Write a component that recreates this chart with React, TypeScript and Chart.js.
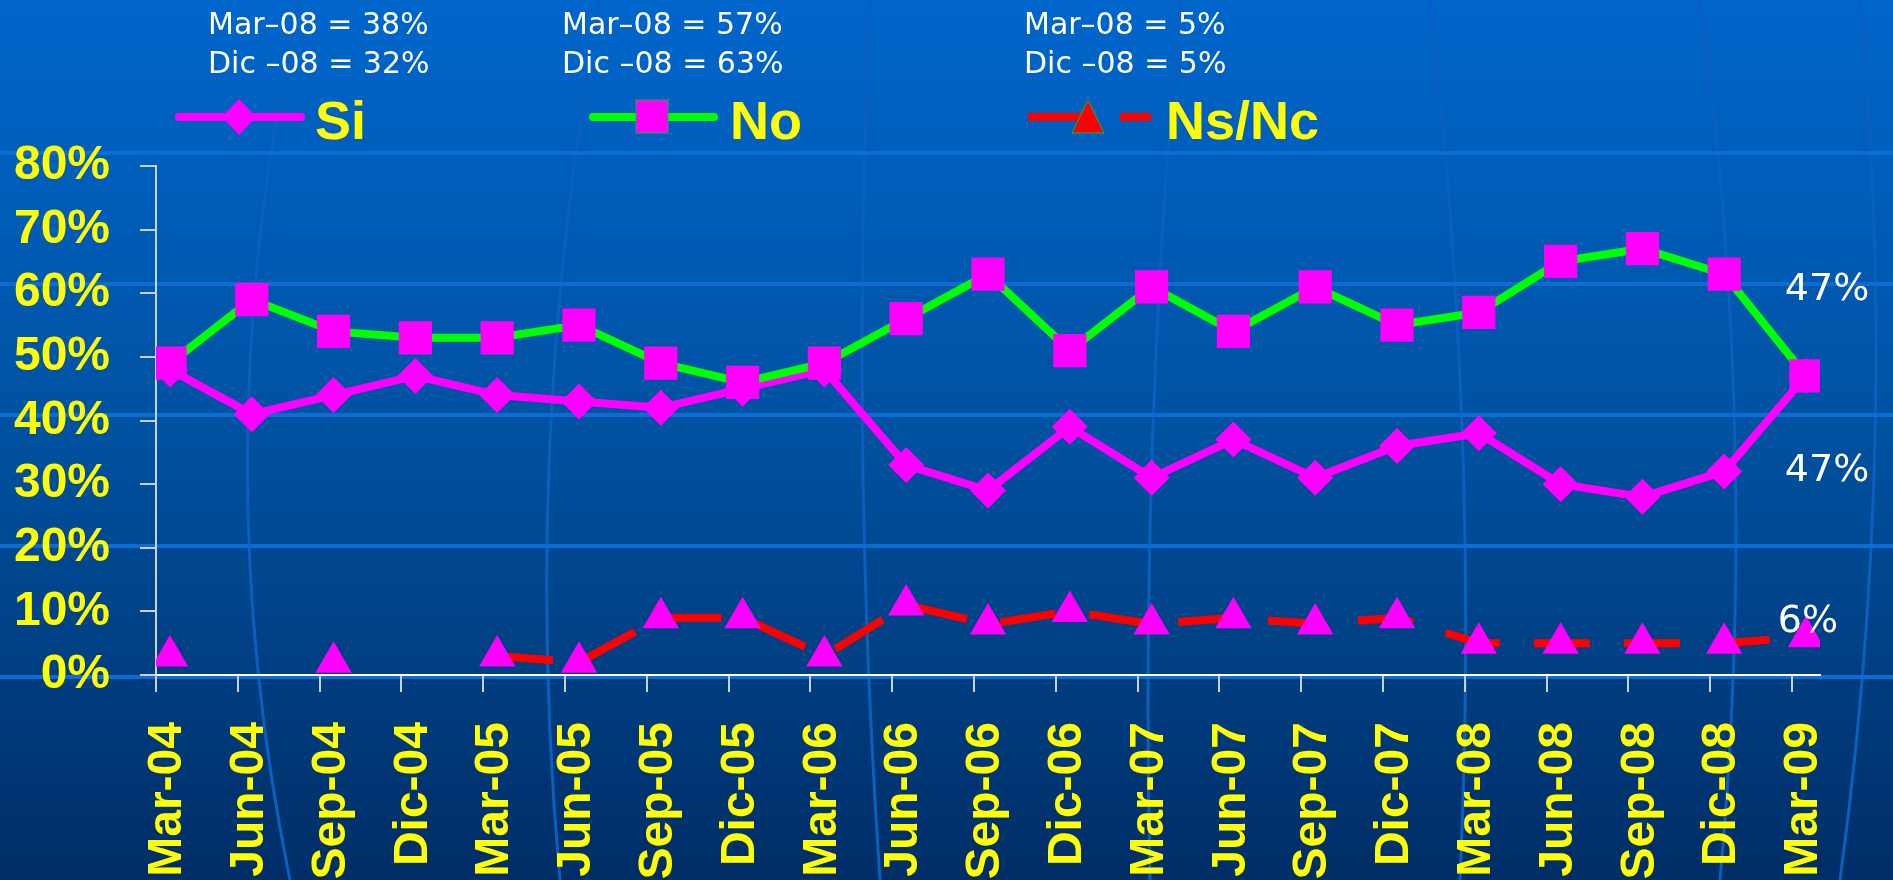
import React, { useEffect, useRef } from 'react';
import { Chart, registerables } from 'chart.js';

Chart.register(...registerables);

// ---- data ----
const categories = [
  'Mar-04', 'Jun-04', 'Sep-04', 'Dic-04', 'Mar-05', 'Jun-05', 'Sep-05', 'Dic-05',
  'Mar-06', 'Jun-06', 'Sep-06', 'Dic-06', 'Mar-07', 'Jun-07', 'Sep-07', 'Dic-07',
  'Mar-08', 'Jun-08', 'Sep-08', 'Dic-08', 'Mar-09',
];
const siValues = [48, 41, 44, 47, 44, 43, 42, 45, 48, 33, 29, 39, 31, 37, 31, 36, 38, 30, 28, 32, 47];
const noValues = [49, 59, 54, 53, 53, 55, 49, 46, 49, 56, 63, 51, 61, 54, 61, 55, 57, 65, 67, 63, 47];
const nsValues = [3, null, 2, null, 3, 2, 9, 9, 3, 11, 8, 10, 8, 9, 8, 9, 5, 5, 5, 5, 6];
const yTickValues = [0, 10, 20, 30, 40, 50, 60, 70, 80];
const seriesNames = ['Si', 'No', 'Ns/Nc'];
const siNotes = ['Mar–08 = 38%', 'Dic –08 = 32%'];
const noNotes = ['Mar–08 = 57%', 'Dic –08 = 63%'];
const nsNotes = ['Mar–08 = 5%', 'Dic –08 = 5%'];

const MAGENTA = '#FF00FF';
const GREEN = '#00FF00';
const RED = '#FF0000';
const YELLOW = '#FFFF00';
const AXIS_GREY = '#c9d1e2';
const EDGE = 0.171; // fractional category padding at both ends of the x axis

const toPoints = (vals: (number | null)[]) => vals.map((v, i) => ({ x: i, y: v }));

const bgPlugin = {
  id: 'bg',
  beforeDraw(chart: any) {
    const { ctx, width, height } = chart;
    ctx.save();
    const g = ctx.createLinearGradient(0, 0, 0, height);
    g.addColorStop(0, '#0066CC');
    g.addColorStop(0.5, '#0051A0');
    g.addColorStop(1, '#002D66');
    ctx.fillStyle = g;
    ctx.fillRect(0, 0, width, height);
    // faint meridian curves
    ctx.strokeStyle = '#0b5fbd';
    ctx.lineWidth = 3;
    const curves = [
      [300, 0, 200, 440, 290, 880],
      [600, 0, 520, 440, 560, 880],
      [870, 0, 850, 440, 880, 880],
      [1180, 0, 1140, 440, 1150, 880],
      [1430, 0, 1480, 440, 1460, 880],
      [1700, 0, 1760, 440, 1720, 880],
      [1860, 0, 1900, 440, 1840, 880],
    ];
    curves.forEach(([x0, y0, cx, cy, x1, y1]) => {
      ctx.beginPath();
      ctx.moveTo(x0, y0);
      ctx.quadraticCurveTo(cx, cy, x1, y1);
      ctx.stroke();
    });
    // horizontal template stripes
    ctx.fillStyle = '#0d6cd4';
    [153, 284, 415, 546, 677].forEach((y) => ctx.fillRect(0, y - 2, width, 4));
    ctx.restore();
  },
};

const endLabelOffsets = [
  { dx: 21, dy: 91 },
  { dx: 21, dy: -90 },
  { dx: 2, dy: -19 },
];

const endLabelPlugin = {
  id: 'endLabels',
  afterDatasetsDraw(chart: any) {
    const ctx = chart.ctx;
    ctx.save();
    ctx.font = '38px "DejaVu Sans", Verdana, sans-serif';
    ctx.fillStyle = '#ffffff';
    ctx.textAlign = 'center';
    ctx.textBaseline = 'alphabetic';
    chart.data.datasets.forEach((ds: any, i: number) => {
      const meta = chart.getDatasetMeta(i);
      const n = meta.data.length;
      const el = meta.data[n - 1];
      const value = ds.data[n - 1].y;
      const off = endLabelOffsets[i];
      ctx.fillText(value + '%', el.x + off.dx, el.y + off.dy + 14);
    });
    ctx.restore();
  },
};

export default function App() {
  const ref = useRef<HTMLCanvasElement>(null);

  useEffect(() => {
    const canvas = ref.current!;
    const chart = new Chart(canvas, {
      type: 'line',
      data: {
        datasets: [
          {
            label: seriesNames[0],
            data: toPoints(siValues),
            borderColor: MAGENTA,
            borderWidth: 8,
            pointStyle: 'rectRot',
            pointRadius: 18,
            pointBackgroundColor: MAGENTA,
            pointBorderWidth: 0,
            order: 1,
          },
          {
            label: seriesNames[1],
            data: toPoints(noValues),
            borderColor: GREEN,
            borderWidth: 8,
            pointStyle: 'rect',
            pointRadius: 23.5,
            pointBackgroundColor: MAGENTA,
            pointBorderWidth: 0,
            order: 0,
          },
          {
            label: seriesNames[2],
            data: toPoints(nsValues),
            borderColor: RED,
            borderWidth: 8,
            borderDash: [56, 34],
            pointStyle: 'triangle',
            pointRadius: 21,
            pointBackgroundColor: MAGENTA,
            pointBorderWidth: 0,
            spanGaps: false,
            order: 2,
          },
        ] as any,
      },
      options: {
        animation: false,
        responsive: false,
        events: [],
        layout: { padding: { top: 166, right: 73, left: 0, bottom: 0 } },
        plugins: { legend: { display: false }, tooltip: { enabled: false } },
        scales: {
          x: {
            type: 'linear',
            min: -EDGE,
            max: categories.length - 1 + EDGE,
            bounds: 'data',
            afterBuildTicks: (scale: any) => {
              scale.ticks = categories.map((_, i) => ({ value: i - EDGE }));
            },
            afterFit: (scale: any) => {
              scale.height = 205;
            },
            ticks: {
              autoSkip: false,
              minRotation: 90,
              maxRotation: 90,
              padding: 30,
              labelOffset: 12,
              color: YELLOW,
              font: { family: '"Liberation Sans", Arial, sans-serif', size: 48, weight: 'bold' },
              callback: (_v: any, i: number) => categories[i],
            },
            grid: { drawOnChartArea: false, drawTicks: true, tickLength: 17, color: AXIS_GREY, lineWidth: 2 },
            border: { display: true, color: '#ffffff', width: 2 },
          },
          y: {
            type: 'linear',
            min: yTickValues[0],
            max: yTickValues[yTickValues.length - 1],
            afterBuildTicks: (scale: any) => {
              scale.ticks = yTickValues.map((v) => ({ value: v }));
            },
            afterFit: (scale: any) => {
              scale.width = 156;
            },
            ticks: {
              padding: 30,
              color: YELLOW,
              font: { family: '"Liberation Sans", Arial, sans-serif', size: 48, weight: 'bold' },
              callback: (v: any) => v + '%',
            },
            grid: { drawOnChartArea: false, drawTicks: true, tickLength: 16, color: AXIS_GREY, lineWidth: 2 },
            border: { display: true, color: AXIS_GREY, width: 2 },
          },
        },
      } as any,
      plugins: [bgPlugin, endLabelPlugin],
    });
    return () => chart.destroy();
  }, []);

  const noteStyle = (left: number, baseline: number): React.CSSProperties => ({
    position: 'absolute',
    left,
    top: baseline - 25.4,
    fontFamily: '"DejaVu Sans", Verdana, sans-serif',
    fontSize: 30,
    lineHeight: '30px',
    color: '#ffffff',
    whiteSpace: 'nowrap',
  });
  const legendTextStyle = (left: number): React.CSSProperties => ({
    position: 'absolute',
    left,
    top: 93,
    fontFamily: '"Liberation Sans", Arial, sans-serif',
    fontWeight: 'bold',
    fontSize: 54,
    lineHeight: '54px',
    color: YELLOW,
    whiteSpace: 'nowrap',
  });

  return (
    <div style={{ position: 'fixed', left: 0, top: 0, width: 1893, height: 880, overflow: 'hidden' }}>
      <canvas ref={ref} width={1893} height={880} style={{ display: 'block', width: 1893, height: 880 }} />
      <svg
        width={1893}
        height={880}
        style={{ position: 'absolute', left: 0, top: 0, pointerEvents: 'none' }}
      >
        {/* Si legend sample */}
        <line x1={179} y1={117} x2={301} y2={117} stroke={MAGENTA} strokeWidth={8} strokeLinecap="round" />
        <polygon points="239,99 256,117 239,135 222,117" fill={MAGENTA} />
        {/* No legend sample */}
        <line x1={593} y1={117} x2={714} y2={117} stroke={GREEN} strokeWidth={8} strokeLinecap="round" />
        <rect x={636} y={100} width={32} height={33} fill={MAGENTA} stroke="#22aa44" strokeWidth={1} />
        {/* Ns/Nc legend sample */}
        <line x1={1028} y1={117} x2={1087} y2={117} stroke={RED} strokeWidth={8} />
        <line x1={1120} y1={117} x2={1151} y2={117} stroke={RED} strokeWidth={8} />
        <polygon points="1088,100 1104,133 1072,133" fill={RED} stroke="#22aa44" strokeWidth={1} />
      </svg>
      <div style={noteStyle(208, 34)}>{siNotes[0]}</div>
      <div style={noteStyle(208, 73)}>{siNotes[1]}</div>
      <div style={noteStyle(562, 34)}>{noNotes[0]}</div>
      <div style={noteStyle(562, 73)}>{noNotes[1]}</div>
      <div style={noteStyle(1024, 34)}>{nsNotes[0]}</div>
      <div style={noteStyle(1024, 73)}>{nsNotes[1]}</div>
      <div style={legendTextStyle(315)}>{seriesNames[0]}</div>
      <div style={legendTextStyle(730)}>{seriesNames[1]}</div>
      <div style={legendTextStyle(1166)}>{seriesNames[2]}</div>
    </div>
  );
}
